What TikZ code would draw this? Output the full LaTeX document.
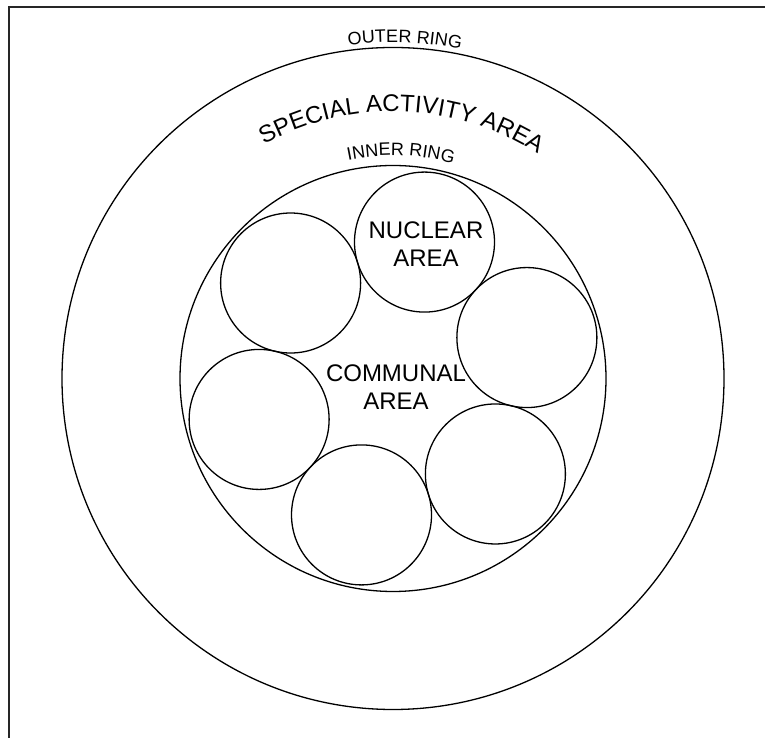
\documentclass[tikz,border=0pt]{standalone}
\usepackage{fontspec}
\setmainfont{Liberation Sans}
\usetikzlibrary{decorations.text}
\begin{document}
\begin{tikzpicture}[x=1pt,y=1pt,
  ring/.style={draw=black, line width=1.3pt},
  frameline/.style={draw=black!85, line width=2pt},
  label/.style={font=\fontsize{24}{28}\selectfont, align=center, inner sep=0pt},
  arclabel/.style={decorate, decoration={text along path, text align=center, text={#1}}}
]
\useasboundingbox (0,0) rectangle (765,738);
% frame (top and left edges visible)
\draw[frameline] (8.5,0) -- (8.5,731) -- (765,731);
\coordinate (C) at (393,359.5);
% rings
\draw[ring] (C) circle[radius=331];
\draw[ring] (C) circle[radius=213];
% six cells
\foreach \a/\n in {17/c1,77/nuc,137/c3,197/c4,257/c5,317/c6}{
  \draw[ring] ([shift={(\a:140)}]C) circle[radius=70];
}
% texts
\node[label] (nuclear) at (426,493.8) {NUCLEAR\\AREA};
\node[label] (communal) at (396,350.8) {COMMUNAL\\AREA};
% curved labels
\path[arclabel={|\fontsize{18}{18}\selectfont|OUTER RING}]
  ([shift={(148:336)}]C) arc[start angle=148, end angle=28, radius=336];
\path[arclabel={|\fontsize{24}{24}\selectfont|SPECIAL ACTIVITY AREA}]
  ([shift={(150:267)}]C) arc[start angle=150, end angle=26, radius=267];
\path[arclabel={|\fontsize{18}{18}\selectfont|INNER RING}]
  ([shift={(148:223)}]C) arc[start angle=148, end angle=28, radius=223];
\end{tikzpicture}
\end{document}
